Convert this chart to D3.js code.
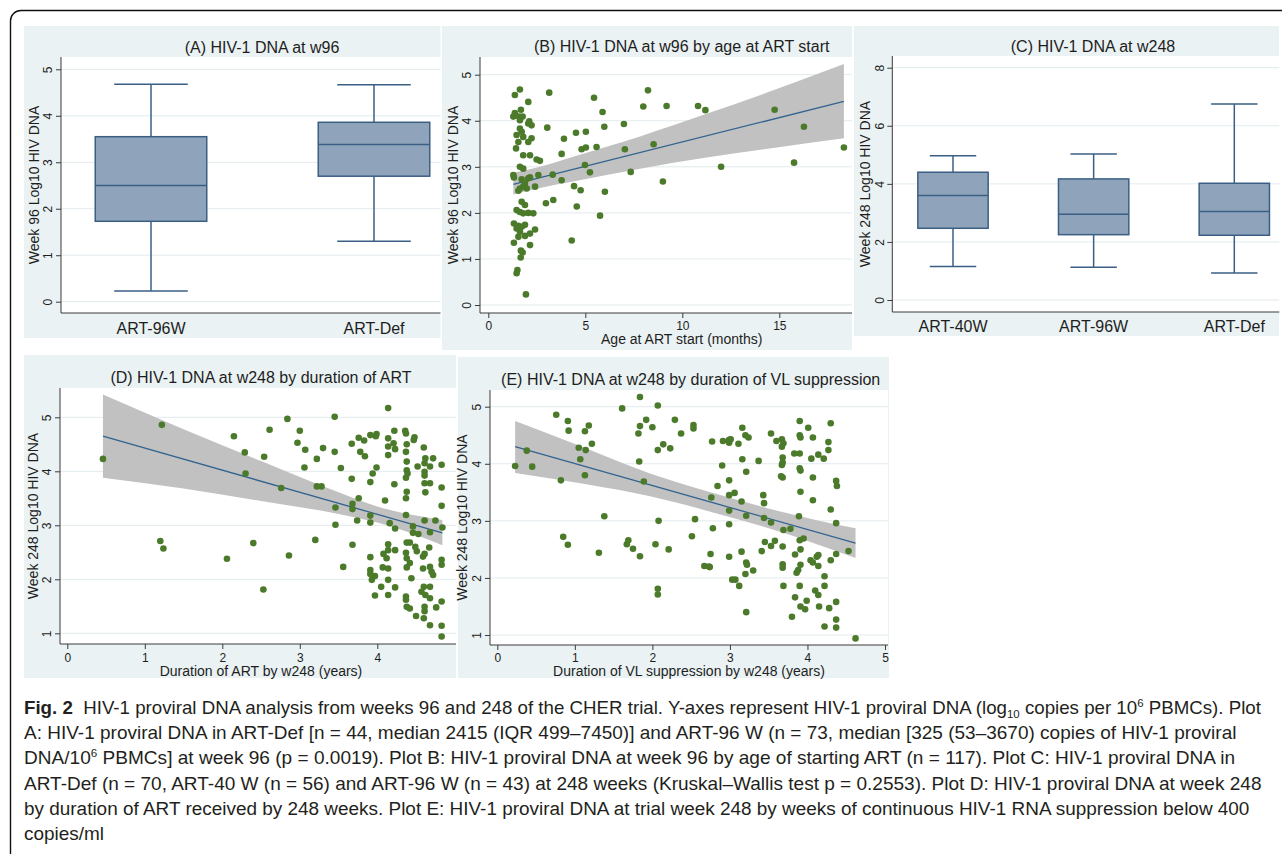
<!DOCTYPE html>
<html><head><meta charset="utf-8">
<script src="https://cdn.jsdelivr.net/npm/d3@7/dist/d3.min.js"></script>
<style>html,body{margin:0;padding:0;background:#fff;}svg{display:block;}</style>
</head><body>
<svg id="fig" width="1282" height="854" xmlns="http://www.w3.org/2000/svg"></svg>
<script>
// ================= DATA =================
// Panel A : box plot, week 96
const catsA = ["ART-96W", "ART-Def"];
const boxA_low  = [0.23, 1.30];
const boxA_q1   = [1.73, 2.70];
const boxA_med  = [2.50, 3.38];
const boxA_q3   = [3.55, 3.86];
const boxA_high = [4.68, 4.67];
const ticksA_y  = [0, 1, 2, 3, 4, 5];

// Panel C : box plot, week 248
const catsC = ["ART-40W", "ART-96W", "ART-Def"];
const boxC_low  = [1.15, 1.13, 0.93];
const boxC_q1   = [2.47, 2.25, 2.23];
const boxC_med  = [3.60, 2.95, 3.05];
const boxC_q3   = [4.40, 4.17, 4.02];
const boxC_high = [4.97, 5.03, 6.75];
const ticksC_y  = [0, 2, 4, 6, 8];

// Panel B : age at ART start (months) vs week 96 log10 DNA
const pointsB = [
 [1.37,4.56],[1.63,4.68],[1.68,4.24],[2.06,4.41],[1.37,4.17],[1.29,4.09],[1.58,4.09],[1.63,4.01],[1.77,4.09],
 [2.11,3.99],[2.06,3.94],[2.23,3.90],[1.63,3.83],[1.72,3.76],[1.46,3.69],[1.80,3.65],[2.23,3.62],[2.06,3.54],
 [1.55,3.54],[1.43,3.40],[1.80,3.25],[2.15,3.25],[2.49,3.16],[2.66,3.13],[1.63,3.00],[1.80,2.96],[1.29,2.82],
 [1.32,2.77],[1.72,2.73],[2.06,2.75],[2.15,2.77],[2.58,2.82],[1.89,2.64],[1.80,2.57],[1.63,2.53],[1.98,2.53],
 [1.55,2.48],[2.41,2.57],[1.72,2.24],[1.89,2.17],[1.46,2.06],[1.63,2.02],[1.80,1.99],[2.06,2.00],[2.32,1.99],
 [1.32,1.77],[1.55,1.72],[1.46,1.66],[1.72,1.70],[1.89,1.74],[2.41,1.64],[1.63,1.59],[1.55,1.48],[1.32,1.35],
 [1.89,1.50],[2.15,1.55],[2.15,1.30],[1.68,1.18],[1.77,1.14],[1.67,1.03],[1.50,0.76],[1.46,0.69],[1.94,0.23],
 [3.14,4.61],[3.04,3.85],[3.32,2.83],[3.78,3.28],[3.90,3.61],[3.78,2.71],[2.97,2.21],[3.35,2.28],[4.52,3.74],
 [4.42,2.58],[4.56,2.14],[4.76,2.49],[4.30,1.40],[4.81,3.38],[5.03,3.76],[5.03,3.42],[4.98,3.04],[5.24,2.88],
 [5.45,4.50],[5.58,3.43],[5.89,4.19],[5.98,3.87],[6.01,2.46],[5.76,1.94],[6.99,3.93],[7.04,3.38],[7.34,2.89],
 [8.23,4.66],[8.52,3.49],[7.99,4.31],[9.00,2.68],[9.19,4.32],[10.81,4.32],[11.19,4.23],[12.00,3.00],[14.76,4.24],
 [15.76,3.09],[16.27,3.87],[18.33,3.42]
];
const fitB  = [[1.29, 2.62], [18.33, 4.42]];
const bandB = [[1.29,2.40,2.87],[2.66,2.54,3.00],[4.38,2.68,3.22],[7.82,2.96,3.66],[11.25,3.20,4.15],[14.69,3.41,4.66],[18.33,3.62,5.23]];
const ticksB_x = [0, 5, 10, 15];
const ticksB_y = [0, 1, 2, 3, 4, 5];

// Panel D : duration of ART (years) vs week 248 log10 DNA
const pointsD = [
 [0.46,4.23],[1.22,4.86],[1.20,2.71],[1.24,2.57],[2.06,2.38],[2.15,4.65],[2.29,4.35],[2.30,3.96],[2.40,2.67],
 [2.53,1.81],[2.54,4.27],[2.61,4.77],[2.76,3.69],[2.84,4.97],[2.86,2.44],[3.00,4.75],[2.97,4.53],[3.07,4.40],
 [3.06,4.07],[3.22,4.23],[3.30,4.43],[3.22,3.72],[3.28,3.72],[3.20,2.73],[3.45,5.01],[3.45,4.36],[3.46,3.33],
 [3.46,3.01],[3.53,4.06],[3.56,2.23],[3.67,4.51],[3.67,3.86],[3.68,3.40],[3.68,3.30],[3.68,2.64],[3.74,3.09],
 [3.76,3.50],[3.76,4.62],[3.78,4.36],[3.83,4.57],[3.84,4.28],[3.91,4.67],[3.98,4.65],[3.99,4.69],[3.91,3.80],
 [3.94,3.96],[3.99,4.07],[3.91,3.18],[3.91,3.05],[3.91,2.41],[3.91,2.17],[3.91,2.10],[3.97,2.06],[3.93,1.99],
 [3.97,1.70],[4.05,1.86],[4.10,3.46],[4.14,5.17],[4.14,4.61],[4.14,4.46],[4.21,4.52],[4.23,4.41],[4.22,4.75],
 [4.14,4.30],[4.22,3.76],[4.16,3.04],[4.23,2.94],[4.14,2.65],[4.08,2.47],[4.14,2.54],[4.12,2.39],[4.23,2.54],
 [4.07,2.22],[4.14,2.20],[4.14,1.99],[4.23,1.85],[4.14,1.71],[4.36,4.75],[4.37,4.70],[4.38,4.50],[4.37,4.36],
 [4.38,4.18],[4.38,4.02],[4.37,3.88],[4.39,3.96],[4.38,3.62],[4.37,3.50],[4.37,3.19],[4.47,4.58],[4.48,4.63],
 [4.52,4.09],[4.60,4.44],[4.62,4.24],[4.61,4.15],[4.61,3.99],[4.61,3.92],[4.61,3.78],[4.62,3.61],[4.68,3.78],
 [4.68,4.09],[4.72,4.24],[4.83,4.12],[4.83,3.70],[4.83,3.36],[4.84,2.96],[4.75,3.09],[4.68,2.87],[4.61,3.09],
 [4.46,2.98],[4.53,2.84],[4.46,2.86],[4.38,2.68],[4.42,2.68],[4.49,2.60],[4.51,2.52],[4.37,2.49],[4.38,2.39],
 [4.42,2.30],[4.38,2.22],[4.59,2.42],[4.61,2.47],[4.67,2.59],[4.59,2.20],[4.68,2.23],[4.70,2.14],[4.72,2.08],
 [4.83,2.36],[4.83,2.27],[4.44,2.02],[4.37,1.68],[4.37,1.62],[4.38,1.49],[4.42,1.46],[4.50,1.32],[4.60,1.86],
 [4.57,1.77],[4.62,1.71],[4.68,1.86],[4.68,1.65],[4.61,1.49],[4.61,1.41],[4.60,1.28],[4.68,1.15],[4.76,1.48],
 [4.83,1.59],[4.83,1.14],[4.83,0.94]
];
const fitD  = [[0.46, 4.65], [4.84, 2.86]];
const bandD = [[0.46,3.88,5.42],[1.50,3.68,4.78],[2.50,3.45,4.19],[3.50,3.21,3.61],[4.00,3.05,3.35],[4.50,2.82,3.18],[4.84,2.63,3.10]];
const ticksD_x = [0, 1, 2, 3, 4];
const ticksD_y = [1, 2, 3, 4, 5];

// Panel E : duration of VL suppression (years) vs week 248 log10 DNA
const pointsE = [
 [0.23,3.96],[0.38,4.23],[0.45,3.95],[0.76,4.86],[0.82,3.71],[0.85,2.72],[0.91,2.58],[0.91,4.75],[0.92,4.58],
 [1.05,4.28],[1.07,4.08],[1.13,4.57],[1.18,4.67],[1.14,4.24],[1.22,4.35],[1.13,3.80],[1.31,2.44],[1.38,3.08],
 [1.61,4.97],[1.67,2.59],[1.69,2.66],[1.75,2.51],[1.84,5.17],[1.84,4.66],[1.82,4.53],[1.83,4.04],[1.84,2.38],
 [1.89,3.69],[1.92,4.77],[2.00,4.64],[2.07,5.02],[2.07,4.24],[2.14,4.34],[2.04,2.59],[2.08,3.00],[2.07,1.81],
 [2.07,1.71],[2.21,2.50],[2.23,4.27],[2.29,4.77],[2.37,4.53],[2.53,4.68],[2.53,4.62],[2.55,3.03],[2.51,2.73],
 [2.77,4.39],[2.76,3.41],[2.78,2.87],[2.75,2.42],[2.67,2.21],[2.73,2.20],[2.74,2.19],[2.84,3.61],[2.90,3.97],
 [2.91,4.40],[2.99,4.42],[3.01,4.43],[2.99,4.37],[3.11,4.35],[3.16,4.63],[3.20,4.50],[3.24,4.46],[3.16,4.08],
 [3.21,3.86],[2.99,3.71],[2.99,3.45],[3.06,3.49],[3.15,3.34],[2.99,3.18],[3.21,3.09],[2.99,2.94],[2.99,2.37],
 [3.15,2.46],[3.03,1.97],[3.07,1.97],[3.12,1.86],[3.20,2.07],[3.21,2.27],[3.22,2.23],[3.30,2.13],[3.21,1.40],
 [3.37,4.05],[3.43,3.45],[3.44,3.31],[3.44,3.05],[3.53,2.97],[3.45,2.63],[3.41,2.47],[3.58,2.65],[3.53,2.56],
 [3.53,4.53],[3.60,4.40],[3.67,4.43],[3.69,4.36],[3.67,4.30],[3.68,4.11],[3.68,4.02],[3.67,3.98],[3.66,3.78],
 [3.68,3.76],[3.69,2.84],[3.78,2.86],[3.68,2.55],[3.68,2.24],[3.68,2.18],[3.69,1.86],[3.83,4.18],[3.90,4.75],
 [3.90,4.50],[3.91,4.46],[3.90,4.18],[3.90,3.92],[3.91,3.88],[3.91,3.51],[3.89,3.08],[3.90,2.66],[3.95,2.69],
 [3.91,2.50],[3.91,2.23],[3.88,2.14],[3.86,2.09],[3.90,1.86],[3.84,2.41],[3.84,1.66],[3.80,1.32],[3.91,1.50],
 [3.97,1.45],[3.99,1.60],[4.01,4.63],[4.07,4.46],[4.05,4.09],[4.07,3.76],[4.07,3.36],[4.04,2.31],[4.07,2.27],
 [4.12,2.37],[4.14,2.40],[4.14,2.21],[4.10,1.78],[4.14,1.70],[4.15,1.50],[4.14,4.16],[4.21,4.09],[4.27,4.24],
 [4.27,4.38],[4.30,4.71],[4.30,3.20],[4.30,2.31],[4.22,2.03],[4.22,1.86],[4.28,1.47],[4.22,1.15],[4.37,3.70],
 [4.38,3.61],[4.37,2.96],[4.37,2.42],[4.37,1.58],[4.37,1.27],[4.37,1.13],[4.53,2.47],[4.62,0.94]
];
const fitE  = [[0.23, 4.30], [4.62, 2.61]];
const bandE = [[0.23,3.84,4.75],[1.11,3.65,4.29],[1.97,3.43,3.83],[2.83,3.13,3.47],[3.69,2.79,3.15],[4.12,2.59,3.01],[4.62,2.35,2.87]];
const ticksE_x = [0, 1, 2, 3, 4, 5];
const ticksE_y = [1, 2, 3, 4, 5];

// Texts
const titleA = "(A) HIV-1 DNA at w96";
const titleB = "(B) HIV-1 DNA at w96 by age at ART start";
const titleC = "(C) HIV-1 DNA at w248";
const titleD = "(D) HIV-1 DNA at w248 by duration of ART";
const titleE = "(E) HIV-1 DNA at w248 by duration of VL suppression";
const yLabel96  = "Week 96 Log10 HIV DNA";
const yLabel248 = "Week 248 Log10 HIV DNA";
const xLabelB = "Age at ART start (months)";
const xLabelD = "Duration of ART by w248 (years)";
const xLabelE = "Duration of VL suppression by w248 (years)";

const captionLines = [
 [{t:"Fig. 2", b:1}, {t:"  HIV-1 proviral DNA analysis from weeks 96 and 248 of the CHER trial. Y-axes represent HIV-1 proviral DNA (log"}, {t:"10", sub:1}, {t:" copies per 10"}, {t:"6", sup:1}, {t:" PBMCs). Plot"}],
 [{t:"A: HIV-1 proviral DNA in ART-Def [n = 44, median 2415 (IQR 499–7450)] and ART-96 W (n = 73, median [325 (53–3670) copies of HIV-1 proviral"}],
 [{t:"DNA/10"}, {t:"6", sup:1}, {t:" PBMCs] at week 96 (p = 0.0019). Plot B: HIV-1 proviral DNA at week 96 by age of starting ART (n = 117). Plot C: HIV-1 proviral DNA in"}],
 [{t:"ART-Def (n = 70, ART-40 W (n = 56) and ART-96 W (n = 43) at 248 weeks (Kruskal–Wallis test p = 0.2553). Plot D: HIV-1 proviral DNA at week 248"}],
 [{t:"by duration of ART received by 248 weeks. Plot E: HIV-1 proviral DNA at trial week 248 by weeks of continuous HIV-1 RNA suppression below 400"}],
 [{t:"copies/ml"}]
];

// ================= LAYOUT / STYLE =================
const FONT = "'Liberation Sans', Arial, Helvetica, sans-serif";
const CAPFONT = "'Liberation Sans Narrow', 'Liberation Sans', Arial, sans-serif";
const BG = "#eaf2f3", GRID = "#e2eaed", AXIS = "#3a3a3a", TXT = "#1e1e1e";
const BOX_FILL = "#8fa4ba", BOX_STROKE = "#3b5f84";
const DOT = "#4b7a2a", FIT = "#33638f", BAND = "#c1c1c1";

const LA = {bg:[24,26,476,312], plot:[61,57,403,256], title:[262,47], yOff:27, catRange:[151,374], catY:328, yDom:[0,5], yRng:[301.7,69.3]};
const LB = {outer:[440.5,14,470,338], bg:[442,26,463,324], plot:[480,57,403,256], title:[681.7,46], yOff:27, xDom:[0,15], xRng:[488.3,779.3], yDom:[0,5], yRng:[305,74.7], tickY:325.5, xTitle:[681.7,339.5]};
const LC = {outer:[852,14,430,338], bg:[854,26,425,310], plot:[892.3,56,387,256], title:[1093,46], yOff:27, catRange:[953,1234.3], catY:326, yDom:[0,8], yRng:[300,67.7]};
const LD = {bg:[24,355,476,323], plot:[60,388,402,256], title:[261,377], yOff:27, xDom:[0,4], xRng:[67.3,377.3], yDom:[1,5], yRng:[633.3,417.3], tickY:657.5, xTitle:[261,671]};
const LE = {outer:[456,352,440,334], bg:[458,357,431,321], plot:[490,390,398,255], title:[690.7,379], yOff:28, xDom:[0,5], xRng:[497.3,885], yDom:[1,5], yRng:[635,406.7], tickY:657.5, xTitle:[689,671.5]};

const svg = d3.select("#fig").attr("font-family", FONT);

function rect(g, r, fill) {
  return g.append("rect").attr("x", r[0]).attr("y", r[1]).attr("width", r[2]).attr("height", r[3]).attr("fill", fill);
}

function frame(L, title) {
  const g = svg.append("g");
  if (L.outer) rect(g, L.outer, "#fff");
  rect(g, L.bg, BG);
  rect(g, L.plot, "#fff");
  g.append("text").attr("x", L.title[0]).attr("y", L.title[1]).attr("dy", "0.35em")
    .attr("text-anchor", "middle").attr("font-size", 16).attr("fill", TXT).text(title);
  return g;
}

function yAxis(g, L, y, ticks, label) {
  const [px, py, pw, ph] = L.plot;
  g.append("g").selectAll("line").data(ticks).join("line")
    .attr("x1", px).attr("x2", px + pw).attr("y1", d => y(d)).attr("y2", d => y(d))
    .attr("stroke", GRID).attr("stroke-width", 1);
  const ax = g.append("g").attr("transform", `translate(${px},0)`)
    .call(d3.axisLeft(y).tickValues(ticks).tickSize(5).tickSizeOuter(0).tickFormat(d3.format("d")));
  ax.attr("font-family", FONT).attr("font-size", 12);
  ax.select(".domain").remove();
  ax.selectAll("line").attr("stroke", AXIS);
  ax.selectAll("text").attr("transform", "rotate(-90)").attr("x", 0).attr("y", -13)
    .attr("dy", "0.35em").attr("text-anchor", "middle").attr("fill", TXT);
  g.append("line").attr("x1", px).attr("x2", px).attr("y1", py).attr("y2", py + ph).attr("stroke", AXIS);
  g.append("text").attr("transform", `translate(${px - L.yOff},${py + ph / 2}) rotate(-90)`)
    .attr("text-anchor", "middle").attr("dy", "0.35em").attr("font-size", 14).attr("fill", TXT).text(label);
}

function xBase(g, L) {
  const [px, py, pw, ph] = L.plot;
  g.append("line").attr("x1", px).attr("x2", px + pw).attr("y1", py + ph).attr("y2", py + ph).attr("stroke", AXIS);
}

function xAxis(g, L, x, ticks, label) {
  const [px, py, pw, ph] = L.plot;
  const ax = g.append("g").attr("transform", `translate(0,${py + ph})`)
    .call(d3.axisBottom(x).tickValues(ticks).tickSize(5).tickSizeOuter(0).tickFormat(d3.format("d")));
  ax.attr("font-family", FONT).attr("font-size", 12);
  ax.select(".domain").remove();
  ax.selectAll("line").attr("stroke", AXIS);
  ax.selectAll("text").attr("y", L.tickY - (py + ph)).attr("dy", "0.35em").attr("fill", TXT);
  xBase(g, L);
  g.append("text").attr("x", L.xTitle[0]).attr("y", L.xTitle[1]).attr("dy", "0.35em")
    .attr("text-anchor", "middle").attr("font-size", 14).attr("fill", TXT).text(label);
}

function boxPanel(L, title, cats, lo, q1, med, q3, hi, yTicks, yLab) {
  const g = frame(L, title);
  const y = d3.scaleLinear().domain(L.yDom).range(L.yRng);
  const x = d3.scalePoint().domain(cats).range(L.catRange);
  const step = x.step(), bw = step * 0.5, cw = step * 0.33;
  yAxis(g, L, y, yTicks, yLab);
  xBase(g, L);
  const bg = g.append("g").attr("stroke", BOX_STROKE).attr("stroke-width", 1.5);
  cats.forEach((c, i) => {
    const cx = x(c);
    bg.append("line").attr("x1", cx).attr("x2", cx).attr("y1", y(q3[i])).attr("y2", y(hi[i]));
    bg.append("line").attr("x1", cx).attr("x2", cx).attr("y1", y(q1[i])).attr("y2", y(lo[i]));
    bg.append("line").attr("x1", cx - cw / 2).attr("x2", cx + cw / 2).attr("y1", y(hi[i])).attr("y2", y(hi[i]));
    bg.append("line").attr("x1", cx - cw / 2).attr("x2", cx + cw / 2).attr("y1", y(lo[i])).attr("y2", y(lo[i]));
    bg.append("rect").attr("x", cx - bw / 2).attr("width", bw).attr("y", y(q3[i]))
      .attr("height", y(q1[i]) - y(q3[i])).attr("fill", BOX_FILL);
    bg.append("line").attr("x1", cx - bw / 2).attr("x2", cx + bw / 2).attr("y1", y(med[i])).attr("y2", y(med[i]));
  });
  g.append("g").selectAll("text").data(cats).join("text")
    .attr("x", d => x(d)).attr("y", L.catY).attr("dy", "0.35em").attr("text-anchor", "middle")
    .attr("font-size", 16).attr("fill", TXT).text(d => d);
}

function scatterPanel(L, title, pts, fit, band, xTicks, yTicks, xLab, yLab) {
  const g = frame(L, title);
  const x = d3.scaleLinear().domain(L.xDom).range(L.xRng);
  const y = d3.scaleLinear().domain(L.yDom).range(L.yRng);
  yAxis(g, L, y, yTicks, yLab);
  g.append("path").datum(band).attr("fill", BAND)
    .attr("d", d3.area().x(d => x(d[0])).y0(d => y(d[1])).y1(d => y(d[2])).curve(d3.curveMonotoneX));
  g.append("path").datum(fit).attr("fill", "none").attr("stroke", FIT).attr("stroke-width", 1.3)
    .attr("d", d3.line().x(d => x(d[0])).y(d => y(d[1])));
  g.append("g").selectAll("circle").data(pts).join("circle")
    .attr("cx", d => x(d[0])).attr("cy", d => y(d[1])).attr("r", 3.3).attr("fill", DOT);
  xAxis(g, L, x, xTicks, xLab);
}

boxPanel(LA, titleA, catsA, boxA_low, boxA_q1, boxA_med, boxA_q3, boxA_high, ticksA_y, yLabel96);
scatterPanel(LB, titleB, pointsB, fitB, bandB, ticksB_x, ticksB_y, xLabelB, yLabel96);
boxPanel(LC, titleC, catsC, boxC_low, boxC_q1, boxC_med, boxC_q3, boxC_high, ticksC_y, yLabel248);
scatterPanel(LD, titleD, pointsD, fitD, bandD, ticksD_x, ticksD_y, xLabelD, yLabel248);
scatterPanel(LE, titleE, pointsE, fitE, bandE, ticksE_x, ticksE_y, xLabelE, yLabel248);

// ================= CAPTION =================
const capX = 24, capBase = 713.7, capLead = 25.3;
const capEnds = [1262, 1237, 1236, 1262, 1250, null];
const cap = svg.append("g").attr("font-family", CAPFONT).attr("font-size", 18).attr("fill", "#231f20");
const capTexts = [];
captionLines.forEach((segs, i) => {
  const t = cap.append("text").attr("x", 0).attr("y", 0).style("white-space", "pre");
  let shift = 0;
  segs.forEach(s => {
    const want = s.sub ? 4 : (s.sup ? -7 : 0);
    const ts = t.append("tspan").text(s.t);
    if (want !== shift) ts.attr("dy", want - shift);
    shift = want;
    if (s.sub || s.sup) ts.attr("font-size", 11);
    if (s.b) ts.attr("font-weight", "bold");
  });
  capTexts.push(t);
});
const scales = [];
capTexts.forEach((t, i) => {
  const w = t.node().getComputedTextLength();
  if (capEnds[i] !== null && w > 0) scales.push((capEnds[i] - capX) / w);
});
const meanScale = d3.mean(scales) || 1;
capTexts.forEach((t, i) => {
  const w = t.node().getComputedTextLength();
  const s = capEnds[i] !== null && w > 0 ? (capEnds[i] - capX) / w : meanScale;
  t.attr("transform", `translate(${capX},${capBase + i * capLead}) scale(${s},1)`);
});

// ================= OUTER BORDER =================
svg.append("path").attr("d", "M1282,10.5 H21 A10.5,10.5 0 0 0 10.5,21 V854")
  .attr("fill", "none").attr("stroke", "#111").attr("stroke-width", 1.4);
</script>
</body></html>
